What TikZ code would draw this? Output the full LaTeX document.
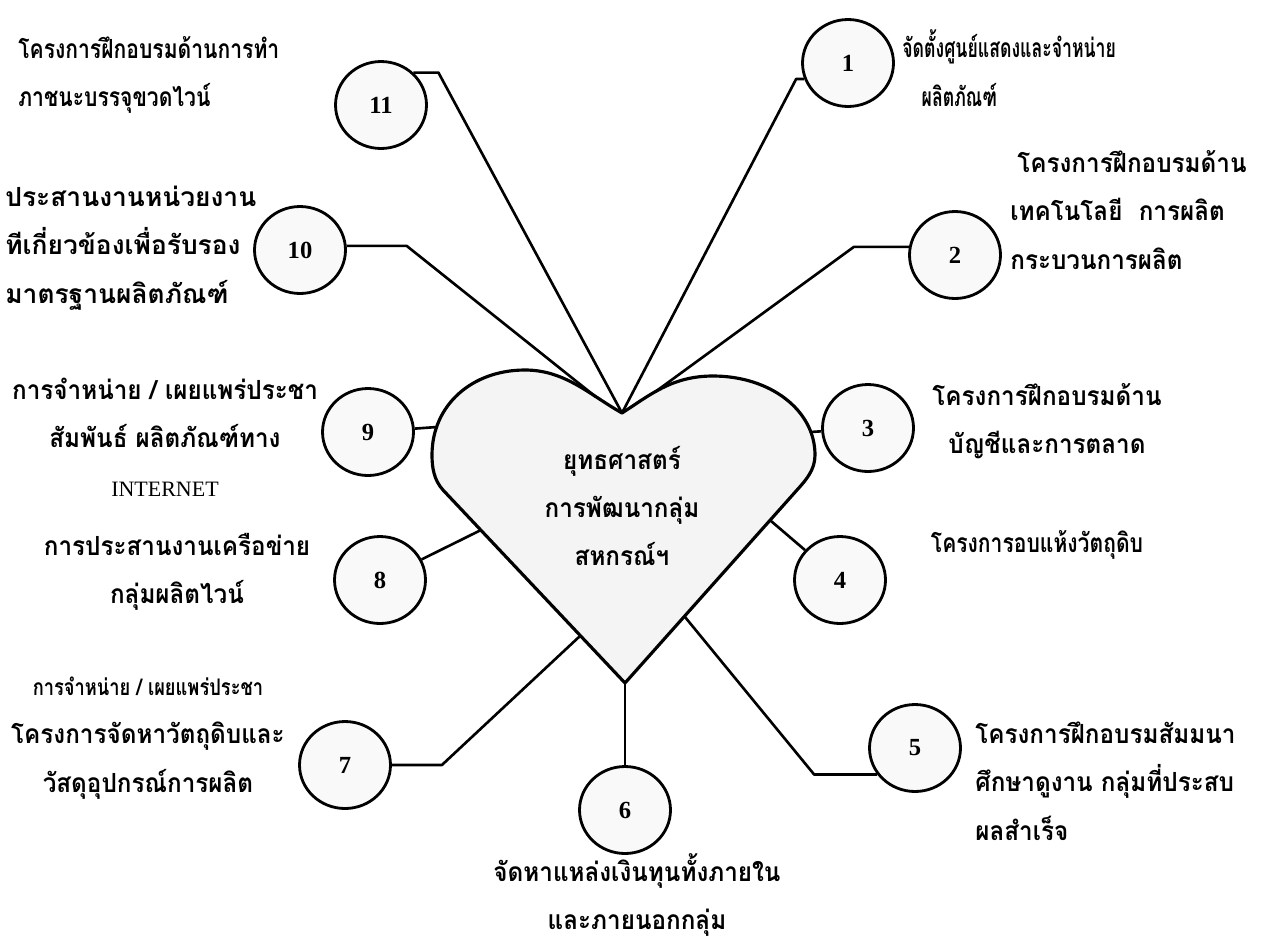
\documentclass[tikz,border=0pt]{standalone}
\usepackage{fontspec}
\setmainfont{Liberation Serif}
\newfontfamily\thaifont[Script=Thai,FakeStretch=0.8]{Loma}
\newfontfamily\thaiwide[Script=Thai,FakeStretch=0.92]{Loma}
\newfontfamily\thaifull[Script=Thai]{Loma}
\newfontfamily\thainarrow[Script=Thai,FakeStretch=0.67]{Loma}
\usetikzlibrary{shapes.geometric}

\begin{document}
\begin{tikzpicture}[
    x=0.02cm,y=-0.02cm,
    num/.style={
        draw, line width=1.6pt,
        ellipse,
        fill=gray!5,
        minimum width=1.82cm,
        minimum height=1.74cm,
        font=\bfseries\fontsize{14}{16}\selectfont
    },
    note/.style={
        align=left,
        inner sep=0pt,
        font=\thaifont\bfseries\fontsize{15}{27.5}\selectfont
    },
    notewide/.style={
        note,
        font=\thaiwide\bfseries\fontsize{15}{27.5}\selectfont
    },
    link/.style={
        draw, line width=1.5pt,
        line join=round
    }
]

\useasboundingbox (0,0) rectangle (1267,947);

% ====== หัวใจ ======
\filldraw[fill=gray!9, line width=1.8pt, line join=round]
    (625,683) -- (443,490)
    .. controls (434,480) and (432,468) .. (432,455)
    .. controls (432,405) and (472,370) .. (525,370)
    .. controls (565,370) and (590,395) .. (622,413)
    .. controls (650,395) and (672,376) .. (713,376)
    .. controls (770,376) and (815,410) .. (815,455)
    .. controls (815,470) and (806,480) .. (797,490)
    -- cycle;

\node[notewide, align=center] (core) at (622,506) {ยุทธศาสตร์\\การพัฒนากลุ่ม\\สหกรณ์ฯ};

\coordinate (notch)  at (622,413);
\coordinate (bottom) at (625,683);
\coordinate (lobeL)  at (596,397);
\coordinate (lobeR)  at (655,392);
\coordinate (sideL)  at (437,427);
\coordinate (sideR)  at (811,432);
\coordinate (edgeL8) at (481,530);
\coordinate (edgeR4) at (771,521);
\coordinate (edgeL7) at (580,636);
\coordinate (edgeR5) at (685,617);

% ====== วงกลม ======
\node[num] (c1)  at (848,63)  {1};
\node[num] (c2)  at (955,255) {2};
\node[num] (c3)  at (868,428) {3};
\node[num] (c4)  at (840,580) {4};
\node[num] (c5)  at (915,748) {5};
\node[num] (c6)  at (625,810) {6};
\node[num] (c7)  at (345,765) {7};
\node[num] (c8)  at (380,580) {8};
\node[num] (c9)  at (368,432) {9};
\node[num] (c10) at (300,250) {10};
\node[num] (c11) at (381,105) {11};

% ====== เส้นเชื่อม ======
\draw[link] (c11.45) -- ++(25,0) -- (notch);
\draw[link] (c1.200) -- ++(-8,0) -- (notch);
\draw[link] (c10.5) -- ++(60,0) -- (lobeL);
\draw[link] (c2.170) -- ++(-55,0) -- (lobeR);
\draw[link] (c9) -- (sideL);
\draw[link] (c3) -- (sideR);
\draw[link] (c8) -- (edgeL8);
\draw[link] (c4) -- (edgeR4);
\draw[link] (c7.east) -- ++(50,0) -- (edgeL7);
\draw[link] (c5.215) -- ++(-63,0) -- (edgeR5);
\draw[link] (bottom) -- (c6);

% ====== ข้อความ ======
\node[note, anchor=west] (t11) at (18,75)
    {โครงการฝึกอบรมด้านการทำ\\ภาชนะบรรจุขวดไวน์};
\node[note, anchor=west, font=\thainarrow\bfseries\fontsize{15}{27.5}\selectfont] (t1) at (902,68)
    {จัดตั้งศูนย์แสดงและจำหน่าย\\\hspace*{11pt}ผลิตภัณฑ์};
\node[notewide, anchor=west] (t2) at (1010,210)
    {\hspace*{4pt}โครงการฝึกอบรมด้าน\\เทคโนโลยี\ \ การผลิต\\กระบวนการผลิต};
\node[note, anchor=west, font=\thaifull\bfseries\fontsize{15}{27.5}\selectfont] (t10) at (5,248)
    {ประสานงานหน่วยงาน\\ทีเกี่ยวข้องเพื่อรับรอง\\มาตรฐานผลิตภัณฑ์};
\node[notewide, align=center] (t9) at (165,437)
    {การจำหน่าย / เผยแพร่ประชา\\สัมพันธ์ ผลิตภัณฑ์ทาง\\{\rmfamily\mdseries\fontsize{12.5}{14}\selectfont INTERNET}};
\node[notewide, align=center] (t3) at (1047,421)
    {โครงการฝึกอบรมด้าน\\บัญชีและการตลาด};
\node[notewide, align=center] (t8) at (177,572)
    {การประสานงานเครือข่าย\\กลุ่มผลิตไวน์};
\node[note, align=center] (t4) at (1037,545)
    {โครงการอบแห้งวัตถุดิบ};
\node[notewide, align=center] (t7) at (148,738)
    {{\thaifont\fontsize{13}{20}\selectfont การจำหน่าย / เผยแพร่ประชา}\\โครงการจัดหาวัตถุดิบและ\\วัสดุอุปกรณ์การผลิต};
\node[notewide, anchor=west] (t5) at (975,781)
    {โครงการฝึกอบรมสัมมนา\\ศึกษาดูงาน กลุ่มที่ประสบ\\ผลสำเร็จ};
\node[notewide, align=center] (t6) at (637,895)
    {จัดหาแหล่งเงินทุนทั้งภายใน\\และภายนอกกลุ่ม};

\end{tikzpicture}
\end{document}
